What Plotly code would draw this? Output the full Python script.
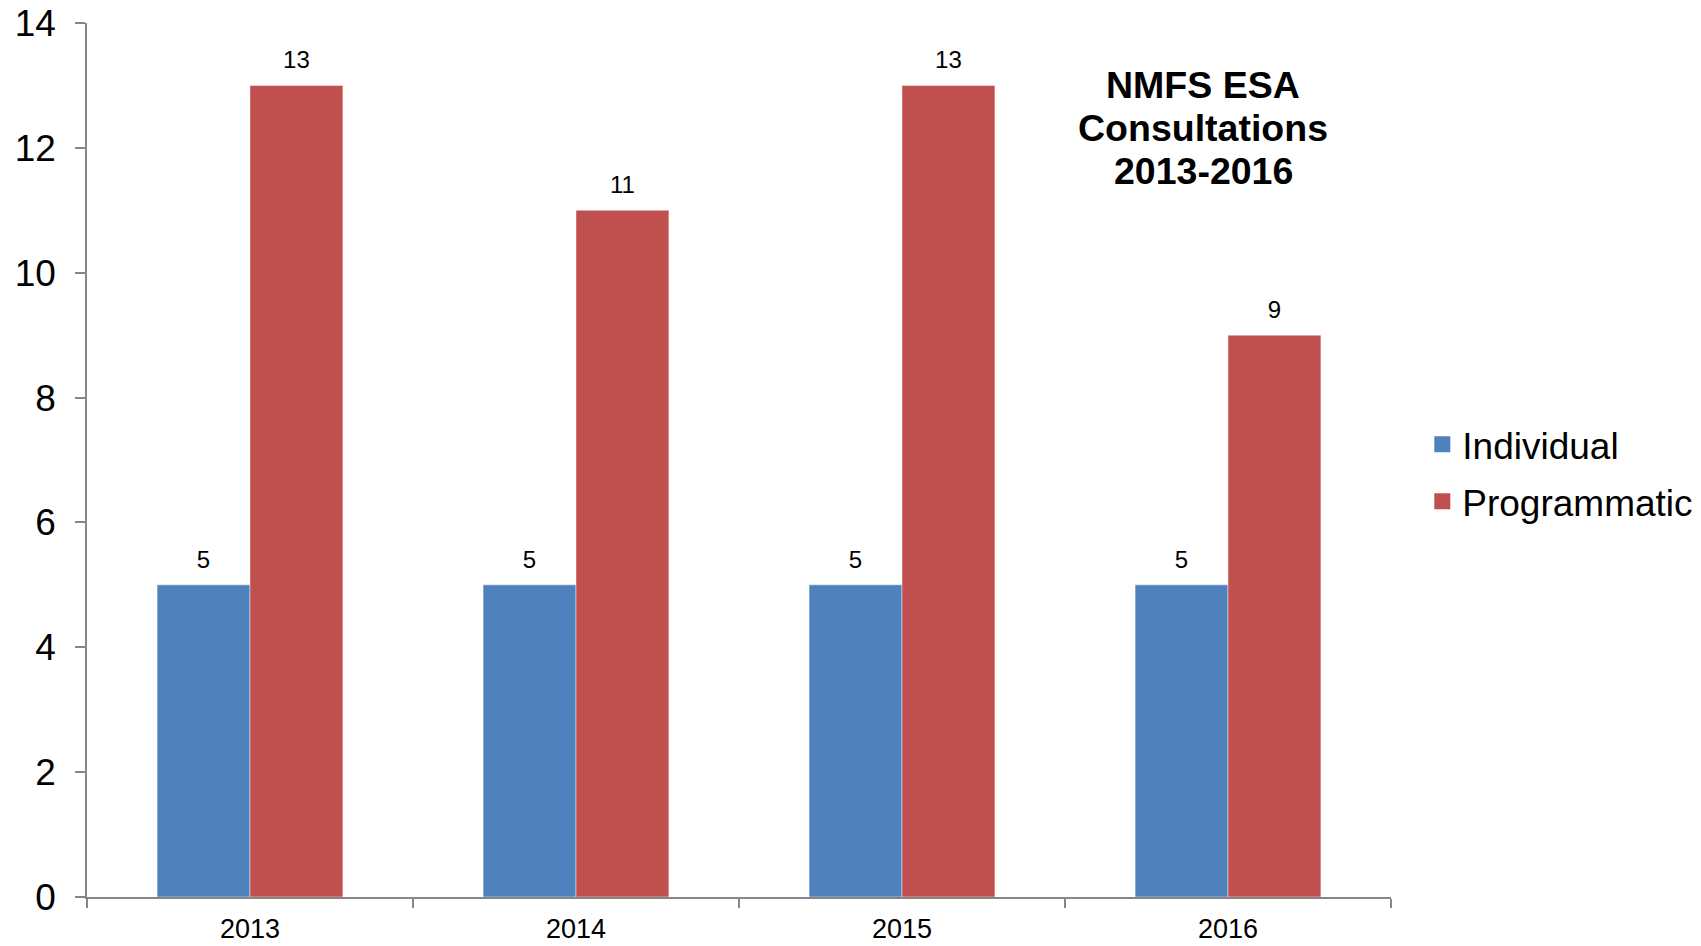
import plotly.graph_objects as go

years = ["2013", "2014", "2015", "2016"]
individual = [5, 5, 5, 5]
programmatic = [13, 11, 13, 9]
series_names = ["Individual", "Programmatic"]
colors = ["#4F81BD", "#C0504D"]
title_lines = ["NMFS ESA", "Consultations", "2013-2016"]

FONT = "Liberation Sans, Arial, sans-serif"

fig = go.Figure()
for i, (name, vals, col) in enumerate(zip(series_names, [individual, programmatic], colors)):
    og = "g%d" % i
    fig.add_trace(go.Bar(
        x=years, y=vals, name=name, offsetgroup=og,
        marker=dict(color=col, line=dict(color="rgba(255,255,255,0.45)", width=1)),
        showlegend=False, hoverinfo="x+y+name",
    ))
    # value labels above bars
    fig.add_trace(go.Scatter(
        x=years, y=vals, name=name, offsetgroup=og,
        mode="markers+text", text=[str(v) for v in vals], textposition="top center",
        marker=dict(size=16, color="rgba(0,0,0,0)"),
        textfont=dict(size=24, color="black", family=FONT),
        cliponaxis=False, showlegend=False, hoverinfo="skip",
    ))
    # legend proxy
    fig.add_trace(go.Scatter(
        x=[None], y=[None], mode="markers", name=name, legendgroup=name, offsetgroup=og,
        marker=dict(symbol="square", size=19, color=col),
        showlegend=True,
    ))

title_y = [0.929, 0.880, 0.831]
for line, ty in zip(title_lines, title_y):
    fig.add_annotation(
        text="<b>" + line + "</b>",
        xref="paper", yref="paper", x=0.856, y=ty,
        xanchor="center", yanchor="middle", showarrow=False,
        font=dict(size=37.5, color="black", family=FONT),
    )

fig.update_layout(
    width=1693, height=938,
    margin=dict(l=79, r=310, t=15, b=49, autoexpand=False),
    paper_bgcolor="white", plot_bgcolor="white",
    barmode="group", bargap=0.43, bargroupgap=0,
    scattermode="group", scattergap=0.43,
    font=dict(family=FONT, color="black"),
    legend=dict(
        x=1.024, y=0.485, xanchor="left", yanchor="middle",
        font=dict(size=37, family=FONT, color="black"),
        tracegroupgap=6, bgcolor="rgba(0,0,0,0)",
    ),
    xaxis=dict(
        showline=True, linecolor="#868686", linewidth=1.5,
        ticks="outside", ticklen=9, tickcolor="#868686", tickwidth=1.5,
        tickson="boundaries", showgrid=False, automargin=False, ticklabelstandoff=7,
        ticklabeloverflow="allow",
        tickfont=dict(size=27, family=FONT, color="black"),
    ),
    yaxis=dict(
        range=[0, 14], dtick=2, showline=True, linecolor="#868686", linewidth=1.5,
        ticks="outside", ticklen=10, tickcolor="#868686", tickwidth=1.5,
        showgrid=False, zeroline=False, automargin=False, ticklabelstandoff=12,
        ticklabeloverflow="allow",
        tickfont=dict(size=37, family=FONT, color="black"),
    ),
)

fig.write_html("out.html")
